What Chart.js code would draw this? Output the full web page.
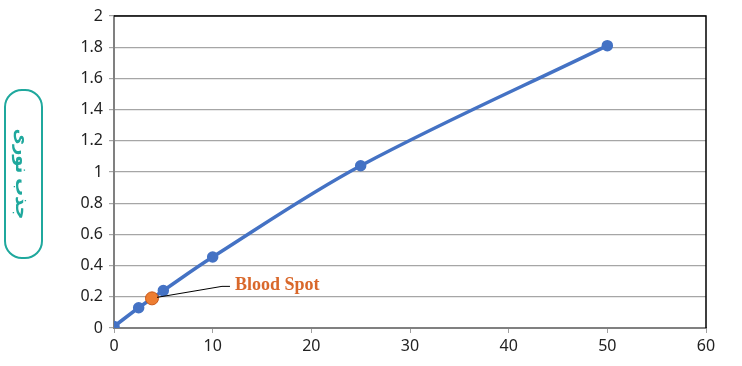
<!DOCTYPE html>
<html>
<head>
<meta charset="utf-8">
<script src="https://cdn.jsdelivr.net/npm/chart.js@4/dist/chart.umd.min.js"></script>
<style>
  html, body { margin: 0; padding: 0; background: #fff; }
  #wrap { width: 742px; height: 366px; }
</style>
</head>
<body>
<div id="wrap"><canvas id="chart" width="742" height="366"></canvas></div>
<script>
// standard curve
var conc = [0, 2.5, 5, 10, 25, 50];
var absorb = [0.01, 0.13, 0.24, 0.455, 1.04, 1.81];
// sample
var sampleX = [3.85];
var sampleY = [0.19];
var sampleLabel = 'Blood Spot';
var yTitle = 'جذب نوری';

function pts(xs, ys) {
    let out = [];
    for (let i = 0; i < xs.length; i++) out.push({x: xs[i], y: ys[i]});
    return out;
}

var decor = {
    id: 'decor',
    afterDraw: function (chart) {
        let ctx = chart.ctx;
        let a = chart.chartArea;
        ctx.save();
        // frame top/right
        ctx.strokeStyle = '#000';
        ctx.lineWidth = 1.5;
        ctx.beginPath();
        ctx.moveTo(a.left, a.top);
        ctx.lineTo(a.right, a.top);
        ctx.lineTo(a.right, a.bottom);
        ctx.stroke();

        // label for sample point
        let meta = chart.getDatasetMeta(1);
        let p = meta.data[0];
        ctx.strokeStyle = '#000';
        ctx.lineWidth = 1;
        ctx.beginPath();
        ctx.moveTo(p.x + 5, p.y - 1);
        ctx.lineTo(p.x + 70, p.y - 12);
        ctx.lineTo(p.x + 78, p.y - 12);
        ctx.stroke();
        ctx.fillStyle = '#d9682b';
        ctx.font = 'bold 18px "Liberation Serif"';
        ctx.textBaseline = 'middle';
        ctx.fillText(sampleLabel, p.x + 83, p.y - 13);

        // y title box
        let bx = 5, by = 90, bw = 37, bh = 168, r = 17;
        ctx.strokeStyle = '#1fa89d';
        ctx.lineWidth = 2;
        ctx.beginPath();
        ctx.moveTo(bx + r, by);
        ctx.arcTo(bx + bw, by, bx + bw, by + bh, r);
        ctx.arcTo(bx + bw, by + bh, bx, by + bh, r);
        ctx.arcTo(bx, by + bh, bx, by, r);
        ctx.arcTo(bx, by, bx + bw, by, r);
        ctx.closePath();
        ctx.stroke();
        ctx.translate(bx + bw / 2, by + bh / 2);
        ctx.rotate(Math.PI / 2);
        ctx.fillStyle = '#1fa89d';
        ctx.font = 'bold 18px "Noto Sans", "DejaVu Sans"';
        ctx.textAlign = 'center';
        ctx.textBaseline = 'middle';
        ctx.direction = 'rtl';
        ctx.fillText(yTitle, 0, 2);
        ctx.restore();
    }
};

var tickFont = {family: '"Noto Sans", "Liberation Sans"', size: 16};

new Chart(document.getElementById('chart'), {
    type: 'scatter',
    data: {
        datasets: [{
            data: pts(conc, absorb),
            showLine: true,
            tension: 0.35,
            borderColor: '#4472c4',
            backgroundColor: '#4472c4',
            borderWidth: 3.5,
            pointRadius: 4,
            pointHoverRadius: 4,
            order: 2
        }, {
            data: pts(sampleX, sampleY),
            showLine: false,
            borderColor: '#c9591a',
            backgroundColor: '#ed7d31',
            borderWidth: 1,
            pointRadius: 6.5,
            pointHoverRadius: 6.5,
            order: 1
        }]
    },
    options: {
        responsive: false,
        animation: false,
        events: [],
        layout: {padding: {left: 0, right: 36, top: 16, bottom: 0}},
        plugins: {legend: {display: false}, tooltip: {enabled: false}},
        scales: {
            x: {
                min: 0, max: 60,
                ticks: {stepSize: 10, color: '#222', font: tickFont, padding: 4},
                grid: {drawOnChartArea: false, drawTicks: true, tickLength: 5, color: '#a0a0a0'},
                border: {color: '#808080', width: 2},
                afterFit: function (s) { s.height = 38; }
            },
            y: {
                min: 0, max: 2,
                ticks: {stepSize: 0.2, color: '#222', font: tickFont, padding: 6,
                    callback: function (v) { return Math.round(v * 10) / 10; }},
                grid: {color: '#a6a6a6', lineWidth: 1.2, tickLength: 5},
                border: {color: '#808080', width: 2},
                afterFit: function (s) { s.width = 114; }
            }
        }
    },
    plugins: [decor]
});
</script>
</body>
</html>
